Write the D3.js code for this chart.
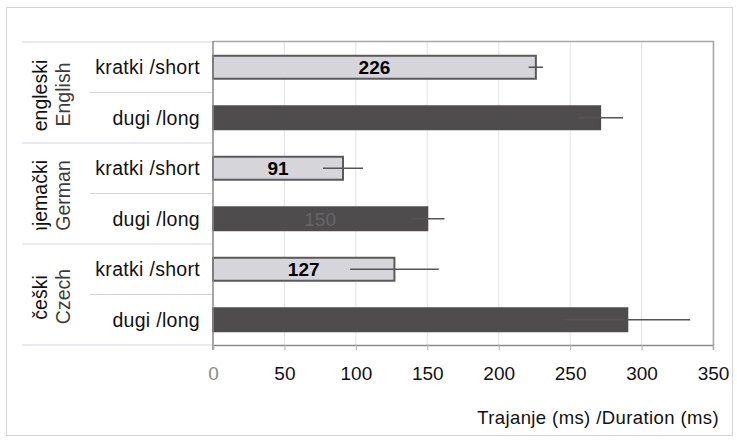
<!DOCTYPE html>
<html>
<head>
<meta charset="utf-8">
<script src="https://cdn.jsdelivr.net/npm/d3@7"></script>
<style>
  body { margin: 0; background: #fff; }
  text { font-family: "Liberation Sans", Arial, sans-serif; }
</style>
</head>
<body>
<script>
// language groups (Croatian / English) and the two vowel lengths
const groupsHr = ['engleski', 'njemački', 'češki'];
const groupsEn = ['English', 'German', 'Czech'];
const lengths = ['kratki /short', 'dugi /long'];

// one value per row, top to bottom
const means = [226, 271, 91, 150, 127, 290];
const errors = [5, 16, 14, 12, 31, 44];
const valueLabels = ['226', '', '91', '150', '127', ''];

const xTicks = [0, 50, 100, 150, 200, 250, 300, 350];
const axisTitle = 'Trajanje (ms) /Duration (ms)';

let width = 737,
    height = 440;

const rows = d3.range(means.length);

const svg = d3.select('body').append('svg')
    .attr('width', width)
    .attr('height', height);

// outer frame
svg.append('rect')
    .attr('x', 6.5)
    .attr('y', 7.5)
    .attr('width', 726)
    .attr('height', 428)
    .attr('fill', '#fff')
    .attr('stroke', '#d4d4d4');

const x = d3.scaleLinear()
    .domain([0, 350])
    .range([213, 713]);

const y = d3.scaleBand()
    .domain(rows)
    .range([42, 345])
    .paddingInner(0.545)
    .paddingOuter(0.2725);

const step = y.step();
const top0 = y.range()[0];

// vertical gridlines
svg.append('g')
    .selectAll('line')
    .data(xTicks.slice(1))
    .enter().append('line')
    .attr('x1', function (d) { return x(d); })
    .attr('x2', function (d) { return x(d); })
    .attr('y1', 42)
    .attr('y2', 345)
    .attr('stroke', '#e2e2ea')
    .attr('stroke-width', 1);

// plot border top/right
svg.append('path')
    .attr('d', 'M' + x(0) + ',41.5H' + (x(350) + 0.5) + 'V345')
    .attr('fill', 'none')
    .attr('stroke', '#a8a8b0')
    .attr('stroke-width', 1.5);

// separators in the label area
svg.append('g')
    .selectAll('line')
    .data(d3.range(groupsHr.length + 1))
    .enter().append('line')
    .attr('x1', 22)
    .attr('x2', x(0))
    .attr('y1', function (d) { return top0 + d * 2 * step; })
    .attr('y2', function (d) { return top0 + d * 2 * step; })
    .attr('stroke', '#d6d2e6')
    .attr('stroke-width', 1.2);

svg.append('g')
    .selectAll('line')
    .data(d3.range(groupsHr.length))
    .enter().append('line')
    .attr('x1', 90)
    .attr('x2', x(0))
    .attr('y1', function (d) { return top0 + (d * 2 + 1) * step; })
    .attr('y2', function (d) { return top0 + (d * 2 + 1) * step; })
    .attr('stroke', '#d6d2e6')
    .attr('stroke-width', 1.2);

// bars
svg.append('g')
    .selectAll('rect')
    .data(rows)
    .enter().append('rect')
    .attr('x', x(0))
    .attr('y', function (d) { return y(d); })
    .attr('width', function (d) { return x(means[d]) - x(0); })
    .attr('height', y.bandwidth())
    .attr('fill', function (d) { return d % 2 === 0 ? '#d6d6da' : '#4e4c4d'; })
    .attr('stroke', function (d) { return d % 2 === 0 ? '#5a5a5a' : '#4e4c4d'; })
    .attr('stroke-width', 2);

// error bars
svg.append('g')
    .selectAll('line')
    .data(rows)
    .enter().append('line')
    .attr('x1', function (d) { return x(means[d] - errors[d]); })
    .attr('x2', function (d) { return x(means[d] + errors[d]); })
    .attr('y1', function (d) { return y(d) + y.bandwidth() / 2; })
    .attr('y2', function (d) { return y(d) + y.bandwidth() / 2; })
    .attr('stroke', '#555')
    .attr('stroke-width', 1.6);

// value labels in the middle of the bars
svg.append('g')
    .selectAll('text')
    .data(rows.filter(function (d) { return valueLabels[d] !== ''; }))
    .enter().append('text')
    .attr('x', function (d) { return x(means[d] / 2); })
    .attr('y', function (d) { return y(d) + y.bandwidth() / 2; })
    .attr('dy', '0.36em')
    .attr('text-anchor', 'middle')
    .attr('font-size', 19)
    .attr('fill', function (d) { return d % 2 === 0 ? '#000' : '#666'; })
    .attr('font-weight', function (d) { return d % 2 === 0 ? 'bold' : 'normal'; })
    .text(function (d) { return valueLabels[d]; });

// y axis line
svg.append('line')
    .attr('x1', x(0))
    .attr('x2', x(0))
    .attr('y1', 41)
    .attr('y2', 350)
    .attr('stroke', '#8a8a8a')
    .attr('stroke-width', 1.5);

// x axis
const xAxis = svg.append('g')
    .attr('transform', 'translate(0,345)')
    .call(d3.axisBottom(x)
        .tickValues(xTicks)
        .tickSize(5)
        .tickPadding(17));

xAxis.select('.domain')
    .attr('stroke', '#8a8a8a')
    .attr('stroke-width', 1.5);
xAxis.selectAll('.tick line')
    .attr('stroke', '#b0b0b0');
xAxis.selectAll('.tick text')
    .attr('font-size', 19)
    .attr('font-family', '"Liberation Sans", Arial, sans-serif')
    .attr('fill', function (d) { return d === 0 ? '#8a8a8a' : '#111'; });

svg.append('text')
    .attr('x', 719)
    .attr('y', 424)
    .attr('text-anchor', 'end')
    .attr('font-size', 18.5)
    .attr('letter-spacing', 0.4)
    .attr('fill', '#111')
    .text(axisTitle);

// category labels
svg.append('g')
    .selectAll('text')
    .data(rows)
    .enter().append('text')
    .attr('x', 200)
    .attr('y', function (d) { return y(d) + y.bandwidth() / 2; })
    .attr('dy', '0.35em')
    .attr('text-anchor', 'end')
    .attr('font-size', 19.5)
    .attr('letter-spacing', 0.3)
    .attr('fill', '#111')
    .text(function (d) { return lengths[d % 2]; });

// rotated group labels (the German one is cut off at the bottom in the original)
svg.append('defs')
    .append('clipPath')
    .attr('id', 'clipGerman')
    .append('rect')
    .attr('x', 0)
    .attr('y', top0 + 2 * step)
    .attr('width', 200)
    .attr('height', 2 * step - 14);

const groupCenter = function (i) { return top0 + (2 * i + 1) * step; };

const gl = svg.append('g');
d3.range(groupsHr.length).forEach(function (i) {
    const cy = groupCenter(i);
    const holder = gl.append('g')
        .attr('clip-path', i === 1 ? 'url(#clipGerman)' : null);
    holder.append('text')
        .attr('transform', 'translate(40,' + (cy + (i === 1 ? 5 : 3)) + ') rotate(-90)')
        .attr('text-anchor', 'middle')
        .attr('dy', '0.35em')
        .attr('font-size', 19.5)
        .attr('fill', '#111')
        .text(groupsHr[i]);
    holder.append('text')
        .attr('transform', 'translate(63,' + (cy + 2) + ') rotate(-90)')
        .attr('text-anchor', 'middle')
        .attr('dy', '0.35em')
        .attr('font-size', 19.5)
        .attr('fill', '#3c3c3c')
        .text(groupsEn[i]);
});
</script>
</body>
</html>
